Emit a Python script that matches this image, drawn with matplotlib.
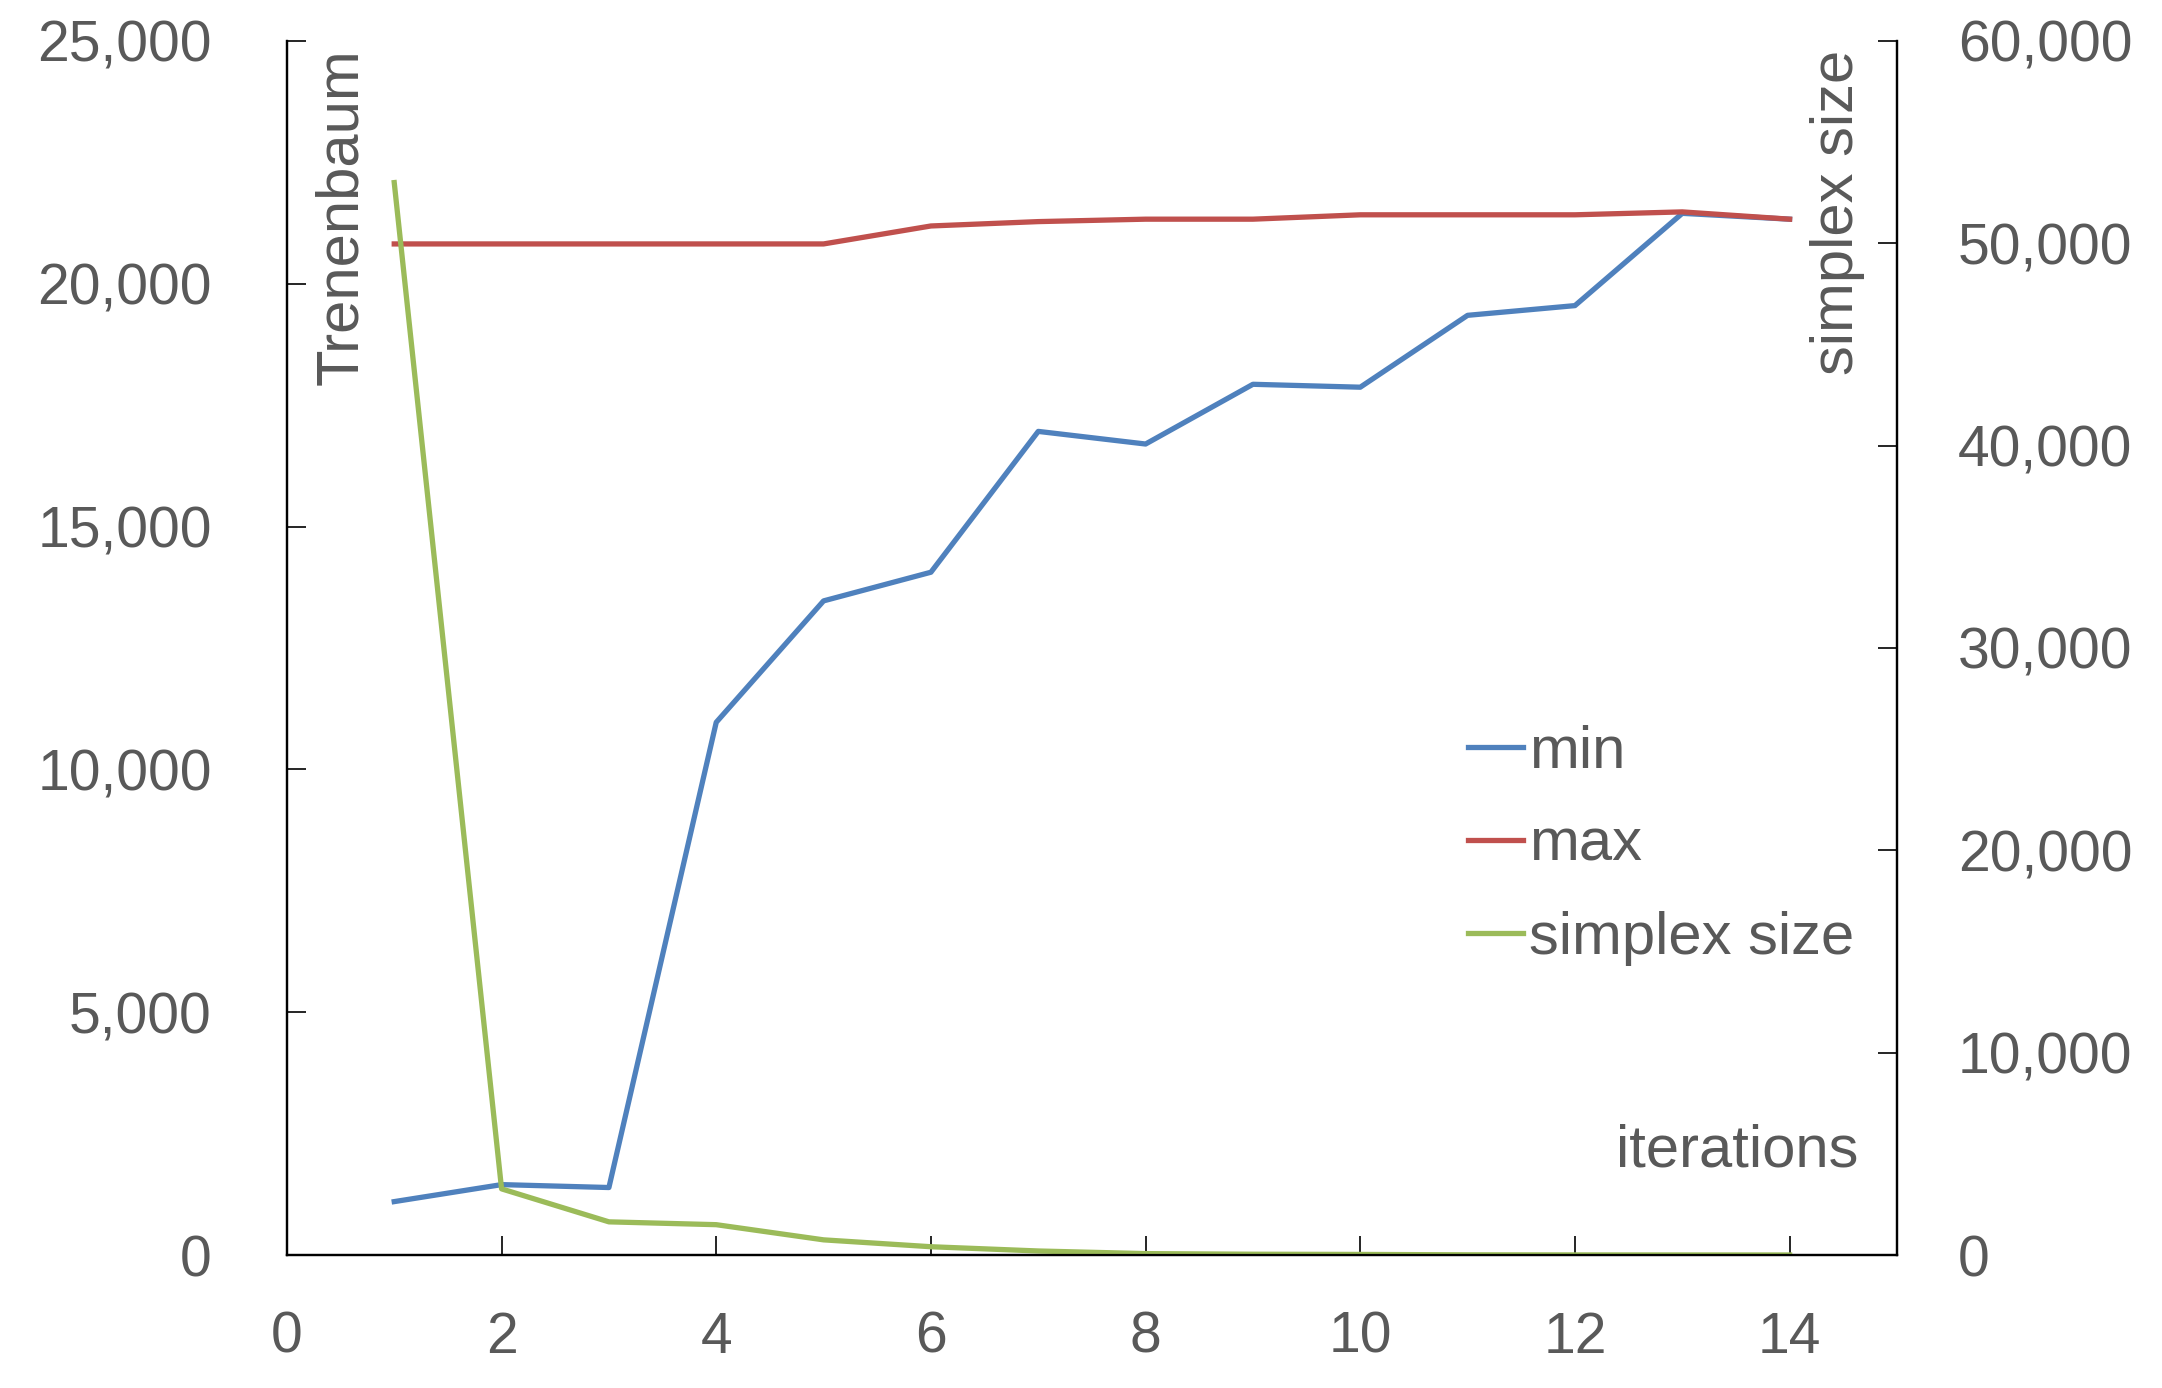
import matplotlib

matplotlib.use("Agg")
import matplotlib.pyplot as plt  # noqa: E402
from matplotlib.ticker import StrMethodFormatter  # noqa: E402

plt.rcParams["font.family"] = ["Liberation Sans", "DejaVu Sans"]

TEXT_COLOR = "#595959"
COLOR_MIN = "#4F81BD"
COLOR_MAX = "#C0504D"
COLOR_SIMPLEX = "#9BBB59"

iterations = [1, 2, 3, 4, 5, 6, 7, 8, 9, 10, 11, 12, 13, 14]
min_values = [1100, 1450, 1390, 10970, 13470, 14060, 16960, 16700,
              17930, 17870, 19350, 19550, 21450, 21330]
max_values = [20820, 20820, 20820, 20820, 20820, 21190, 21280, 21330,
              21330, 21420, 21420, 21420, 21480, 21330]
simplex_size = [53000, 3270, 1640, 1500, 750, 410, 200, 70,
                40, 30, 10, 5, 3, 2]

x_ticks = [0, 2, 4, 6, 8, 10, 12, 14]
left_ticks = [0, 5000, 10000, 15000, 20000, 25000]
right_ticks = [0, 10000, 20000, 30000, 40000, 50000, 60000]

LABEL_SIZE = 43
TICK_SIZE = 41
LINE_W = 3.8

fig = plt.figure(figsize=(21.62, 13.88), dpi=100)
ax = fig.add_axes([0.1327, 0.0958, 0.8774 - 0.1327, 0.9705 - 0.0958])
ax2 = ax.twinx()

l_min, = ax.plot(iterations, min_values, color=COLOR_MIN, linewidth=LINE_W,
                 label="min")
l_max, = ax.plot(iterations, max_values, color=COLOR_MAX, linewidth=LINE_W,
                 label="max")
l_simp, = ax2.plot(iterations, simplex_size, color=COLOR_SIMPLEX,
                   linewidth=LINE_W, label="simplex size")

ax.set_xlim(0, 15)
ax.set_ylim(0, 25000)
ax2.set_ylim(0, 60000)
ax.set_xticks(x_ticks)
ax.set_yticks(left_ticks)
ax2.set_yticks(right_ticks)
ax.yaxis.set_major_formatter(StrMethodFormatter("{x:,.0f}"))
ax2.yaxis.set_major_formatter(StrMethodFormatter("{x:,.0f}"))

for a in (ax, ax2):
    a.spines["top"].set_visible(False)
    for s in ("left", "right", "bottom"):
        a.spines[s].set_linewidth(1.6)
        a.spines[s].set_color("black")
    a.tick_params(direction="in", length=14, width=1.2, labelsize=TICK_SIZE,
                  labelcolor=TEXT_COLOR, color="black")

ax.tick_params(axis="x", pad=40)
ax.tick_params(axis="y", pad=54)
ax2.tick_params(axis="y", pad=44)

ax.text(0.034, 0.994, "Trenenbaum", transform=ax.transAxes, rotation=90,
        ha="center", va="top", fontsize=LABEL_SIZE, color=TEXT_COLOR)
ax.text(0.963, 0.993, "simplex size", transform=ax.transAxes, rotation=90,
        ha="center", va="top", fontsize=LABEL_SIZE, color=TEXT_COLOR)
ax.text(0.976, 0.0857, "iterations", transform=ax.transAxes,
        ha="right", va="center", fontsize=LABEL_SIZE, color=TEXT_COLOR)

leg = ax2.legend([l_min, l_max, l_simp], ["min", "max", "simplex size"],
                 loc="center left", bbox_to_anchor=(0.679, 0.391),
                 bbox_transform=fig.transFigure, frameon=False,
                 fontsize=LABEL_SIZE, handlelength=0.92, handletextpad=0.1,
                 labelspacing=0.64, borderpad=0, borderaxespad=0)
for t in leg.get_texts():
    t.set_color(TEXT_COLOR)

fig.savefig("out.png", dpi=100)
